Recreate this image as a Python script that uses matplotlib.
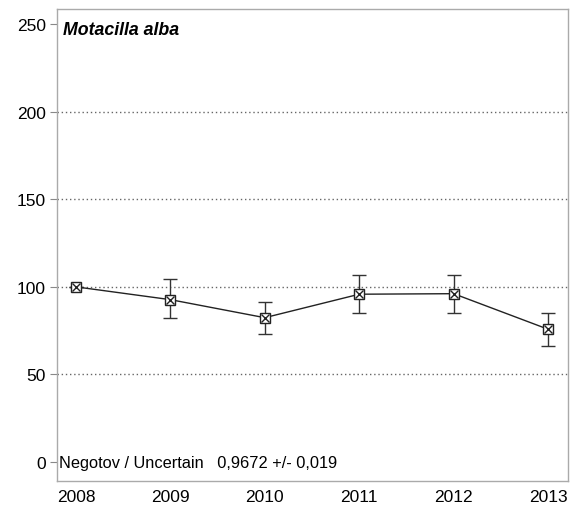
import numpy as np
import matplotlib.pyplot as plt

plt.rcParams['font.family'] = ['Liberation Sans', 'DejaVu Sans']

years = [2008, 2009, 2010, 2011, 2012, 2013]
index = [100, 92.7, 82.4, 95.8, 96.1, 75.8]
upper = [100, 104.4, 91.6, 106.5, 106.7, 84.9]
lower = [100, 82.3, 73.1, 84.9, 84.9, 66.5]

species = "Motacilla alba"
trend_text = "Negotov / Uncertain   0,9672 +/- 0,019"

idx = np.array(index)
yerr = [idx - np.array(lower), np.array(upper) - idx]

fig = plt.figure(figsize=(5.76, 5.10), dpi=100)
ax = fig.add_axes([0.099, 0.055, 0.887, 0.925])

ax.errorbar(years, index, yerr=yerr, fmt='none', ecolor='#333333',
            elinewidth=1.0, capsize=5, capthick=1.0, zorder=3)
ax.plot(years, index, color='#222222', lw=1.0, zorder=4)
ax.plot(years, index, ls='none', marker='s', ms=6.5, mfc='white',
        mec='#222222', mew=1.0, zorder=5)
ax.plot(years, index, ls='none', marker='x', ms=5.5, mec='#222222',
        mew=1.0, zorder=6)

for v in [50, 100, 150, 200]:
    ax.axhline(v, color='#666666', ls=(0, (1, 2)), lw=1.0, zorder=1)

ax.set_xlim(2007.8, 2013.21)
ax.set_ylim(-10.8, 258.5)
ax.set_yticks([0, 50, 100, 150, 200, 250])
ax.set_xticks(years)
ax.tick_params(axis='y', length=5, color='#888888', labelsize=12.5, pad=3)
ax.tick_params(axis='x', length=0, labelsize=12.5, pad=6)
for s in ax.spines.values():
    s.set_color('#aaaaaa')
    s.set_linewidth(1.0)

ax.text(0.012, 0.975, species, transform=ax.transAxes, fontsize=12.8,
        fontweight='bold', style='italic', va='top', ha='left')
ax.text(2007.82, 0, trend_text, fontsize=11.8, va='center', ha='left')

fig.savefig('out.png', dpi=100)
